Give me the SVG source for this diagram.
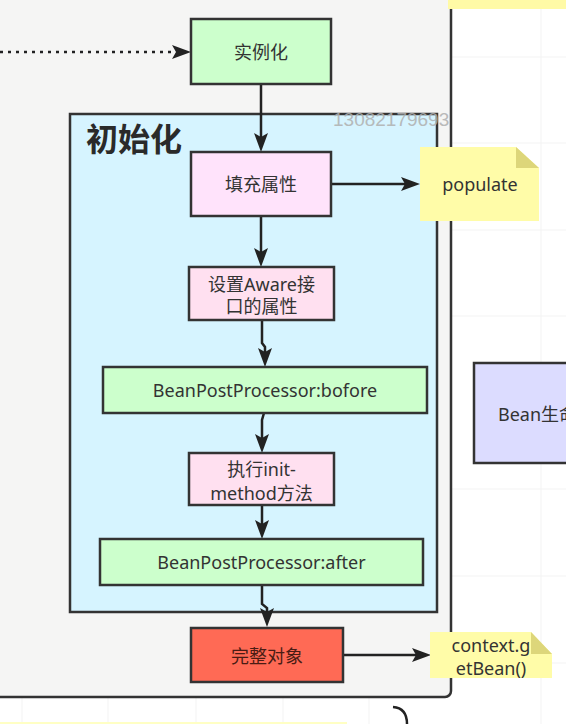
<svg xmlns="http://www.w3.org/2000/svg" width="566" height="724" viewBox="0 0 566 724">
<style>
.box{stroke:#333;stroke-width:2.5}
.t{font-family:"Noto Sans","Noto Sans CJK SC",sans-serif;font-size:18px;fill:#333;text-anchor:middle;dominant-baseline:central}
.c{fill:none;stroke:#222;stroke-width:2.5}
.g{stroke:#f3f3f3;stroke-width:1}
</style>
<defs>
<marker id="ah" markerUnits="userSpaceOnUse" markerWidth="20" markerHeight="14" refX="9" refY="7" orient="auto" overflow="visible">
<path d="M0,0 L19,7 L0,14 L4,7 Z" fill="#222"/>
</marker>
</defs>
<rect x="0" y="0" width="566" height="724" fill="#ffffff"/>
<g id="grid">
<line class="g" x1="541" y1="0" x2="541" y2="724"/>
<line class="g" x1="22" y1="698" x2="22" y2="724"/>
<line class="g" x1="108" y1="698" x2="108" y2="724"/>
<line class="g" x1="196" y1="698" x2="196" y2="724"/>
<line class="g" x1="283" y1="698" x2="283" y2="724"/>
<line class="g" x1="369" y1="698" x2="369" y2="724"/>
<line class="g" x1="452" y1="57" x2="566" y2="57"/>
<line class="g" x1="452" y1="143" x2="566" y2="143"/>
<line class="g" x1="452" y1="230" x2="566" y2="230"/>
<line class="g" x1="452" y1="316" x2="566" y2="316"/>
<line class="g" x1="452" y1="489" x2="566" y2="489"/>
<line class="g" x1="452" y1="576" x2="566" y2="576"/>
<line class="g" x1="452" y1="663" x2="566" y2="663"/>
</g>
<g id="lifecycle-frame">
<rect x="-20" y="-20" width="471" height="717" rx="6" fill="#f5f5f4" stroke="#333" stroke-width="2.5"/>
</g>
<g id="top-note">
<rect x="448" y="0" width="118" height="9" fill="#fffaa6"/>
</g>
<g id="bottom-note">
<rect x="0" y="722" width="347" height="2" fill="#ffffc4"/>
</g>
<path d="M393,707 Q407,708 407,724" fill="none" stroke="#222" stroke-width="2.5"/>
<g id="init-container">
<rect x="70" y="114" width="367" height="498" fill="#d6f4ff" class="box"/>
<text x="86" y="151" style="font-family:'Noto Sans CJK SC',sans-serif;font-size:32px;font-weight:bold;fill:#2a2a2a">初始化</text>
</g>
<text x="333" y="126" style="font-family:'Liberation Sans Narrow','Liberation Sans',sans-serif;font-size:19px;fill:#b0b0b0;opacity:0.85">13082179693</text>
<g id="lifecycle-node">
<rect x="474" y="363" width="110" height="100" fill="#dcdcff" class="box"/>
<text x="498" y="414" class="t" style="text-anchor:start">Bean生命</text>
</g>
<g id="connectors">
<path class="c" d="M0,52 H181" stroke-dasharray="3 5" stroke-width="3" marker-end="url(#ah)"/>
<path class="c" d="M261,84 V142" marker-end="url(#ah)"/>
<path class="c" d="M331,184 H410" marker-end="url(#ah)"/>
<path class="c" d="M261,216 V257" marker-end="url(#ah)"/>
<path class="c" d="M262,320 V343 L265,347 V357" marker-end="url(#ah)"/>
<path class="c" d="M264,413 L262,420 V443" marker-end="url(#ah)"/>
<path class="c" d="M262,505 V529" marker-end="url(#ah)"/>
<path class="c" d="M262,585 V604 L267,608 V617" marker-end="url(#ah)"/>
<path class="c" d="M343,655 H421" marker-end="url(#ah)"/>
</g>
<g id="instantiate">
<rect x="191" y="19" width="140" height="65" fill="#ccffcc" class="box"/>
<text x="261" y="52" class="t">实例化</text>
</g>
<g id="populate-props">
<rect x="191" y="152" width="140" height="64" fill="#ffe3fb" class="box"/>
<text x="261" y="184" class="t">填充属性</text>
</g>
<g id="populate-note">
<path d="M420,147 H516 L539,168 V221 H420 Z" fill="#fffca8"/>
<path d="M516,147 V168 H539 Z" fill="#ddd67a"/>
<text x="480" y="184" class="t">populate</text>
</g>
<g id="aware">
<rect x="189" y="267" width="145" height="53" fill="#ffe0f0" class="box"/>
<text x="261.5" y="284" class="t">设置Aware接</text>
<text x="261.5" y="306" class="t">口的属性</text>
</g>
<g id="bpp-before">
<rect x="103" y="367" width="324" height="46" fill="#ccffcc" class="box"/>
<text x="265" y="390" class="t">BeanPostProcessor:bofore</text>
</g>
<g id="init-method">
<rect x="189" y="453" width="145" height="52" fill="#ffe0f0" class="box"/>
<text x="261.5" y="469" class="t">执行init-</text>
<text x="261.5" y="493" class="t">method方法</text>
</g>
<g id="bpp-after">
<rect x="100" y="539" width="323" height="46" fill="#ccffcc" class="box"/>
<text x="261.5" y="562" class="t">BeanPostProcessor:after</text>
</g>
<g id="complete-object">
<rect x="191" y="628" width="152" height="54" fill="#ff6a55" class="box"/>
<text x="267" y="656" class="t" style="fill:#4a1c14">完整对象</text>
</g>
<g id="getbean-note">
<path d="M430,632 H531 L552,654 V678 H430 Z" fill="#fffca8"/>
<path d="M531,632 V654 H552 Z" fill="#ddd67a"/>
<text x="491" y="645" class="t">context.g</text>
<text x="491" y="668" class="t">etBean()</text>
</g>
</svg>
